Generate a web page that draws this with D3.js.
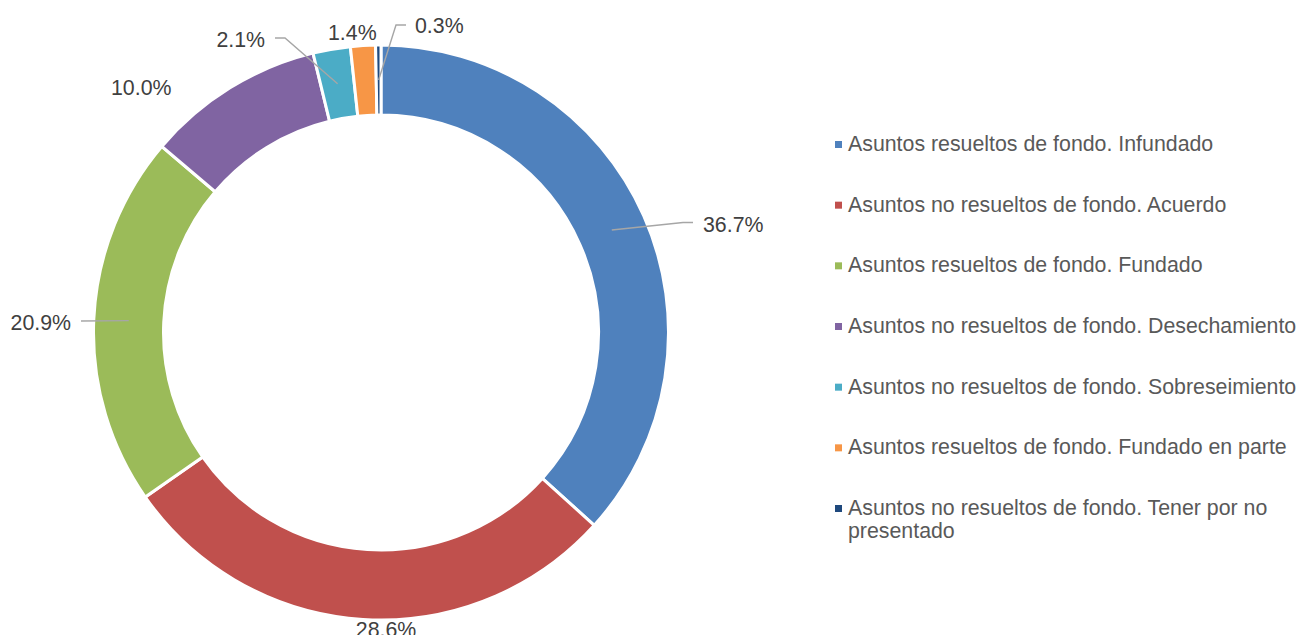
<!DOCTYPE html>
<html>
<head>
<meta charset="utf-8">
<script src="https://cdn.jsdelivr.net/npm/d3@7"></script>
<style>
  html, body { margin: 0; padding: 0; background: #ffffff; }
  svg { display: block; font-family: "Liberation Sans", Arial, sans-serif; }
</style>
</head>
<body>
<svg id="chart" width="1300" height="635"></svg>
<script>
// Distribution of resolved matters, in percent
const categories = [
  "Asuntos resueltos de fondo. Infundado",
  "Asuntos no resueltos de fondo. Acuerdo",
  "Asuntos resueltos de fondo. Fundado",
  "Asuntos no resueltos de fondo. Desechamiento",
  "Asuntos no resueltos de fondo. Sobreseimiento",
  "Asuntos resueltos de fondo. Fundado en parte",
  "Asuntos no resueltos de fondo. Tener por no presentado"
];
const values = [36.7, 28.6, 20.9, 10.0, 2.1, 1.4, 0.3];
const colors = ["#4F81BD", "#C0504D", "#9BBB59", "#8064A2", "#4BACC6", "#F79646", "#1F497D"];

// Label placement around the ring (offsets from the ring centre, text anchor)
// and the bend points of each leader line (null = no leader)
const labelLayout = [
  { x: 322, y: -101, anchor: "start", leader: [[302, -110], [312, -110]] },
  { x: 5,   y: 304.5, anchor: "middle", leader: null },
  { x: -310, y: -3,  anchor: "end",   leader: [[-300, -11.5]] },
  { x: -270, y: -238, anchor: "start", leader: null },
  { x: -116, y: -285.5, anchor: "end", leader: [[-96, -294.5], [-106, -294.5]] },
  { x: -53,  y: -293, anchor: "start", leader: null },
  { x: 34,   y: -299.5, anchor: "start", leader: [[15, -307.5], [25, -307.5]] }
];
// Legend rows (second line for the wrapped entry)
const legendLines = [
  ["Asuntos resueltos de fondo. Infundado"],
  ["Asuntos no resueltos de fondo. Acuerdo"],
  ["Asuntos resueltos de fondo. Fundado"],
  ["Asuntos no resueltos de fondo. Desechamiento"],
  ["Asuntos no resueltos de fondo. Sobreseimiento"],
  ["Asuntos resueltos de fondo. Fundado en parte"],
  ["Asuntos no resueltos de fondo. Tener por no", "presentado"]
];

const svg = d3.select("#chart");
const cx = 381, cy = 332.5;
const outerR = 287.5, innerR = 217.5;
const fontSize = 21.33;

const data = categories.map((c, i) => ({ name: c, value: values[i], color: colors[i], i }));

const pie = d3.pie().value(d => d.value).sort(null);
const arc = d3.arc().innerRadius(innerR).outerRadius(outerR);
const midArc = d3.arc().innerRadius((innerR + outerR) / 2).outerRadius((innerR + outerR) / 2);

const g = svg.append("g").attr("transform", `translate(${cx},${cy})`);
const arcs = pie(data);

g.selectAll("path.slice")
  .data(arcs)
  .join("path")
  .attr("class", "slice")
  .attr("d", arc)
  .attr("fill", d => d.data.color)
  .attr("stroke", "#ffffff")
  .attr("stroke-width", 3)
  .attr("stroke-linejoin", "miter");

// Leader lines from slice centroid to the label
g.selectAll("polyline.leader")
  .data(arcs.filter(d => labelLayout[d.index].leader))
  .join("polyline")
  .attr("class", "leader")
  .attr("points", d => [midArc.centroid(d), ...labelLayout[d.index].leader].map(p => p.join(",")).join(" "))
  .attr("fill", "none")
  .attr("stroke", "#A6A6A6")
  .attr("stroke-width", 1.4);

// Percentage labels
g.selectAll("text.pct")
  .data(arcs)
  .join("text")
  .attr("class", "pct")
  .attr("x", d => labelLayout[d.index].x)
  .attr("y", d => labelLayout[d.index].y)
  .attr("text-anchor", d => labelLayout[d.index].anchor)
  .attr("font-size", fontSize)
  .attr("fill", "#404040")
  .text(d => d3.format(".1f")(d.data.value) + "%");

// Legend
const legend = svg.append("g").attr("transform", "translate(835,0)");
const rowY = d3.scaleLinear().domain([0, 6]).range([151, 515]);
const rows = legend.selectAll("g.row")
  .data(data)
  .join("g")
  .attr("class", "row")
  .attr("transform", d => `translate(0,${rowY(d.i)})`);

rows.append("rect")
  .attr("x", 0)
  .attr("y", -10)
  .attr("width", 7)
  .attr("height", 7)
  .attr("fill", d => d.color);

rows.append("text")
  .attr("x", 13)
  .attr("y", 0)
  .attr("font-size", fontSize)
  .attr("fill", "#595959")
  .selectAll("tspan")
  .data(d => legendLines[d.i])
  .join("tspan")
  .attr("x", 13)
  .attr("dy", (t, k) => k === 0 ? 0 : 23)
  .text(t => t);
</script>
</body>
</html>
